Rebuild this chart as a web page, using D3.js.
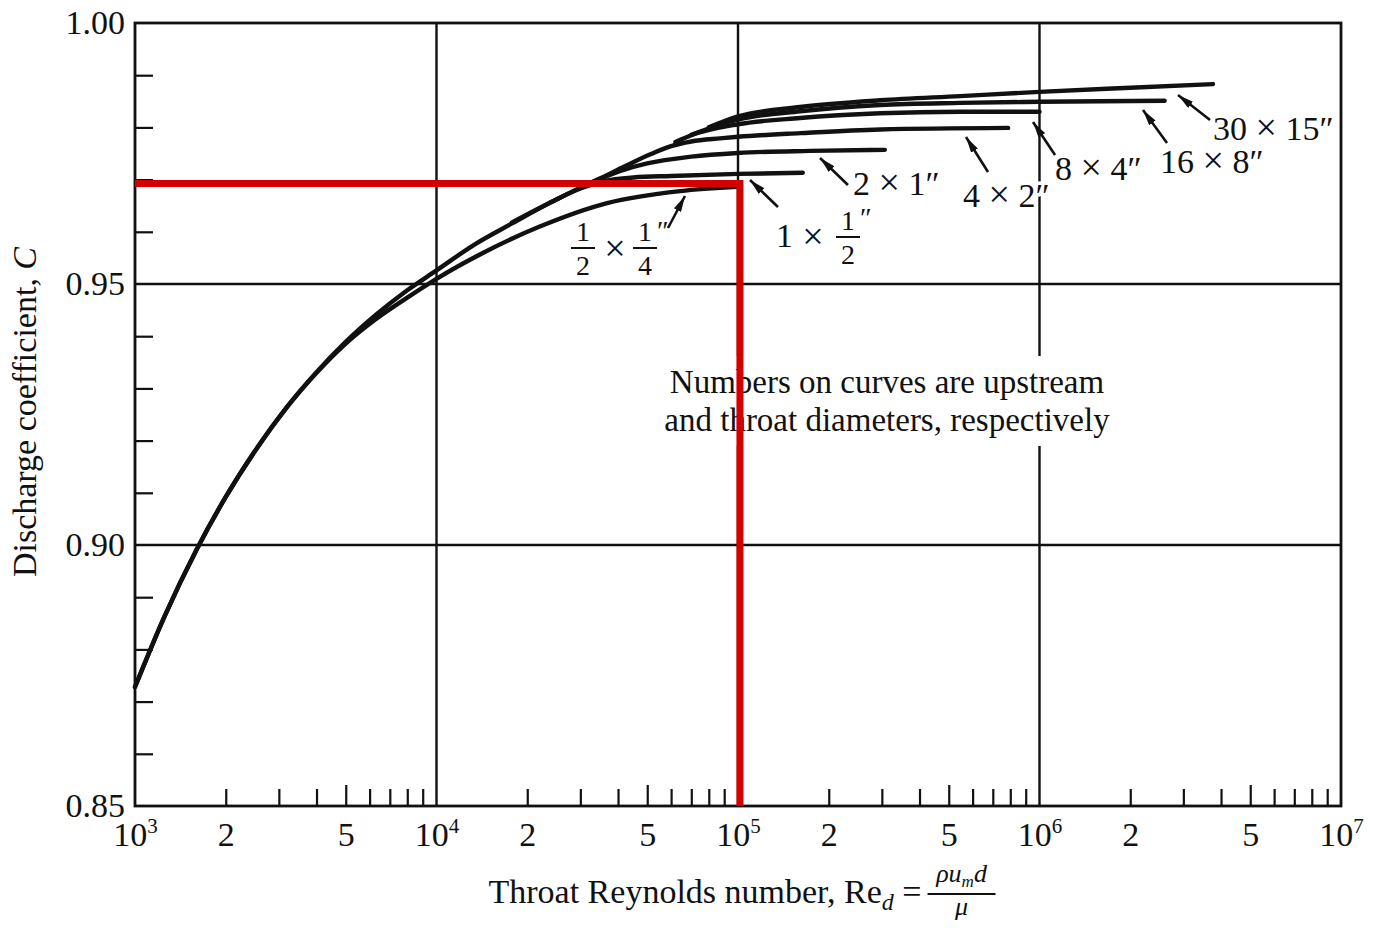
<!DOCTYPE html>
<html>
<head>
<meta charset="utf-8">
<script src="https://cdn.jsdelivr.net/npm/d3@7"></script>
<style>
body { margin: 0; background: #fff; }
text { font-family: "Liberation Serif", "Times New Roman", serif; fill: #111; }
</style>
</head>
<body>
<script>
// discharge coefficient of venturi meters, points read as [Re, C]
const meterSizes = ['1/2 x 1/4', '1 x 1/2', '2 x 1', '4 x 2', '8 x 4', '16 x 8', '30 x 15'];

const halfQuarter = [[1000,0.8728],[1250,0.8862],[1600,0.8991],[2000,0.9092],[2500,0.9180],[3200,0.9265],
  [4000,0.9330],[5000,0.9386],[6300,0.9433],[8000,0.9474],[10000,0.9510],[14300,0.9560],[22000,0.9610],
  [36800,0.9655],[64300,0.9678],[100000,0.9686]];
const oneHalf = [[1000,0.8728],[1250,0.8862],[1600,0.8991],[2000,0.9092],[2500,0.9180],[3200,0.9265],
  [4000,0.9331],[5000,0.9389],[6300,0.9441],[8000,0.9488],[10000,0.9526],[13400,0.9576],[17800,0.9616],
  [23700,0.9655],[30000,0.9683],[36000,0.9697],[45000,0.9704],[60000,0.9707],[100000,0.9711],[164000,0.9713]];
const twoOne = [[17800,0.9618],[24600,0.9660],[35100,0.9702],[42000,0.9719],[50000,0.9731],[70000,0.9744],
  [100000,0.9751],[173000,0.9755],[307000,0.9757]];
const fourTwo = [[30000,0.9685],[35100,0.9703],[42000,0.9725],[51000,0.9748],[60000,0.9764],[70000,0.9773],
  [87100,0.9779],[100000,0.9782],[160600,0.9789],[296000,0.9796],[787000,0.9799]];
const eightFour = [[62000,0.9772],[70000,0.9785],[100000,0.9806],[160600,0.9818],[296000,0.9827],
  [545000,0.9830],[1000000,0.9830]];
const sixteenEight = [[70000,0.9786],[100000,0.9815],[160600,0.9831],[296000,0.9843],[545000,0.9847],
  [1000000,0.9849],[2600000,0.9851]];
const thirtyFifteen = [[80000,0.9800],[100000,0.9821],[160600,0.9839],[296000,0.9852],[545000,0.9860],
  [1000000,0.9868],[2000000,0.9876],[3760000,0.9883]];
const curves = [halfQuarter, oneHalf, twoOne, fourTwo, eightFour, sixteenEight, thirtyFifteen];

// red reading lines: Re = 1e5 gives C = 0.97
const readRe = 101500;
const readC = 0.96925;

const xTickVals = [1e3, 2e3, 5e3, 1e4, 2e4, 5e4, 1e5, 2e5, 5e5, 1e6, 2e6, 5e6, 1e7];
const yTickVals = [0.85, 0.90, 0.95, 1.00];
const xGrid = [1e4, 1e5, 1e6];
const yGrid = [0.90, 0.95];

// label anchors and arrows (from -> tip), in data units
const labelAt = [[30610,0.95690],[133660,0.95709],[240600,0.96705],[557600,0.96475],[1126000,0.96992],[2510000,0.97126],[3764000,0.97759]];
const arrows = [[58580,0.96073,66710,0.96686],[135700,0.96475,109600,0.96992],[231600,0.96897,187100,0.97414],
  [674900,0.97146,570400,0.97816],[1126000,0.97471,951500,0.98103],[2648000,0.97701,2204000,0.98333],
  [3678000,0.98142,2880000,0.98621]];
const noteAt = [312000, 0.92912];
const noteLines = ['Numbers on curves are upstream', 'and throat diameters, respectively'];

const pL = 135, pR = 1341, pT = 23, pB = 806;

const svg = d3.select('body').append('svg').attr('width', 1378).attr('height', 928);
const x = d3.scaleLog().domain([1e3, 1e7]).range([pL, pR]);
const y = d3.scaleLinear().domain([0.85, 1.0]).range([pB, pT]);

svg.append('defs').append('marker').attr('id', 'head')
  .attr('viewBox', '0 0 16 8').attr('refX', 16).attr('refY', 4)
  .attr('markerWidth', 16).attr('markerHeight', 8)
  .attr('markerUnits', 'userSpaceOnUse').attr('orient', 'auto')
  .append('path').attr('d', 'M0,0L16,4L0,8z').attr('fill', '#111');

// grid
const grid = svg.append('g').attr('stroke', '#111').attr('stroke-width', 2.4);
grid.selectAll('.gx').data(xGrid).join('line')
  .attr('x1', d => x(d)).attr('x2', d => x(d)).attr('y1', pT).attr('y2', pB);
grid.selectAll('.gy').data(yGrid).join('line')
  .attr('y1', d => y(d)).attr('y2', d => y(d)).attr('x1', pL).attr('x2', pR);

// minor ticks
const xMinor = [];
for (let e = 3; e < 7; e++) for (let m = 2; m <= 9; m++) xMinor.push(m * Math.pow(10, e));
const yMinor = d3.range(86, 100).filter(v => v !== 90 && v !== 95).map(v => v / 100);

const xAx = svg.append('g').attr('transform', `translate(0,${pB})`)
  .call(d3.axisBottom(x).tickValues(xMinor).tickSize(-17).tickFormat(''));
xAx.selectAll('.tick line').attr('stroke', '#111').attr('stroke-width', 2.2)
  .filter(d => Math.abs(d / Math.pow(10, Math.floor(Math.log10(d) + 1e-9)) - 5) < 1e-6)
  .attr('y2', -21);
xAx.select('.domain').remove();

const yAx = svg.append('g').attr('transform', `translate(${pL},0)`)
  .call(d3.axisLeft(y).tickValues(yMinor).tickSize(-18).tickFormat(''));
yAx.selectAll('.tick line').attr('stroke', '#111').attr('stroke-width', 2.2);
yAx.select('.domain').remove();

// tick labels
const yLab = svg.append('g').attr('transform', `translate(${pL},0)`)
  .call(d3.axisLeft(y).tickValues(yTickVals).tickSize(0).tickPadding(10).tickFormat(d3.format('.2f')));
yLab.select('.domain').remove();
yLab.selectAll('text').attr('font-size', 34).attr('font-family', '"Liberation Serif", serif').attr('fill', '#111');

const xLab = svg.append('g').attr('transform', `translate(0,${pB})`)
  .call(d3.axisBottom(x).tickValues(xTickVals).tickSize(0).tickPadding(16).tickFormat(''));
xLab.select('.domain').remove();
xLab.selectAll('text').attr('font-size', 34).attr('font-family', '"Liberation Serif", serif').attr('fill', '#111')
  .each(function(d) {
    const e = Math.round(Math.log10(d));
    const t = d3.select(this);
    if (Math.abs(d - Math.pow(10, e)) < 1e-6) {
      t.text('10');
      t.append('tspan').attr('font-size', 21).attr('dy', '-0.62em').text(e);
    } else {
      t.text(Math.round(d / Math.pow(10, Math.floor(Math.log10(d)))));
    }
  });

// frame
svg.append('rect').attr('x', pL).attr('y', pT).attr('width', pR - pL).attr('height', pB - pT)
  .attr('fill', 'none').attr('stroke', '#111').attr('stroke-width', 2.8);

// curves
const line = d3.line().x(d => x(d[0])).y(d => y(d[1])).curve(d3.curveMonotoneX);
svg.append('g').selectAll('path').data(curves).join('path')
  .attr('d', line).attr('fill', 'none').attr('stroke', '#111')
  .attr('stroke-width', 4.4).attr('stroke-linecap', 'round');

// note box
const note = svg.append('g');
const noteBg = note.append('rect').attr('fill', '#fff');
const noteText = note.append('text').attr('font-size', 33).attr('text-anchor', 'middle')
  .attr('x', x(noteAt[0])).attr('y', y(noteAt[1]));
noteLines.forEach((s, i) => noteText.append('tspan').attr('x', x(noteAt[0])).attr('dy', i ? 38 : 0).text(s));
const nb = noteText.node().getBBox();
noteBg.attr('x', nb.x - 8).attr('y', nb.y - 8).attr('width', nb.width + 16).attr('height', nb.height + 16);

// labels
const lab = svg.append('g');
const halo = sel => sel.attr('stroke', '#fff').attr('stroke-width', 7).attr('paint-order', 'stroke')
  .attr('stroke-linejoin', 'round');

function fraction(g, cx, barY, num, den) {
  g.append('text').attr('x', cx).attr('y', barY - 7).attr('text-anchor', 'middle').attr('font-size', 28).text(num).call(halo);
  g.append('text').attr('x', cx).attr('y', barY + 27).attr('text-anchor', 'middle').attr('font-size', 28).text(den).call(halo);
  g.append('line').attr('x1', cx - 12).attr('x2', cx + 12).attr('y1', barY).attr('y2', barY)
    .attr('stroke', '#111').attr('stroke-width', 2);
}

meterSizes.forEach((name, i) => {
  const ax = x(labelAt[i][0]), ay = y(labelAt[i][1]);
  const g = lab.append('g');
  if (i === 0) {
    fraction(g, ax, ay, '1', '2');
    g.append('text').attr('x', ax + 32).attr('y', ay + 13).attr('text-anchor', 'middle').attr('font-size', 38).text('\u00d7').call(halo);
    fraction(g, ax + 62, ay, '1', '4');
    g.append('text').attr('x', ax + 74).attr('y', ay - 8).attr('font-size', 28).text('\u2033').call(halo);
  } else if (i === 1) {
    g.append('text').attr('x', ax).attr('y', ay).attr('font-size', 34).text('1').call(halo);
    g.append('text').attr('x', ax + 37).attr('y', ay + 2).attr('text-anchor', 'middle').attr('font-size', 38).text('\u00d7').call(halo);
    fraction(g, ax + 72, ay - 10, '1', '2');
    g.append('text').attr('x', ax + 84).attr('y', ay - 20).attr('font-size', 28).text('\u2033').call(halo);
  } else {
    const [up, th] = name.split(' x ');
    const t = g.append('text').attr('x', ax).attr('y', ay).attr('font-size', 34).call(halo);
    t.append('tspan').text(`${up} `);
    t.append('tspan').attr('font-size', 38).text('\u00d7');
    t.append('tspan').text(` ${th}\u2033`);
  }
});

lab.selectAll('.arrow').data(arrows).join('line')
  .attr('x1', d => x(d[0])).attr('y1', d => y(d[1]))
  .attr('x2', d => x(d[2])).attr('y2', d => y(d[3]))
  .attr('stroke', '#111').attr('stroke-width', 2.6).attr('marker-end', 'url(#head)');

// red reading lines
svg.append('path')
  .attr('d', d3.line().x(d => x(d[0])).y(d => y(d[1]))([[1e3, readC], [readRe, readC], [readRe, 0.85]]))
  .attr('fill', 'none').attr('stroke', '#d40000').attr('stroke-width', 7).attr('stroke-linejoin', 'miter');

// axis titles
const yt = svg.append('text').attr('transform', 'translate(36,412) rotate(-90)')
  .attr('text-anchor', 'middle').attr('font-size', 34);
yt.append('tspan').text('Discharge coefficient, ');
yt.append('tspan').attr('font-style', 'italic').text('C');

const xt = svg.append('text').attr('x', 0).attr('y', 903).attr('font-size', 34);
xt.append('tspan').text('Throat Reynolds number, Re');
xt.append('tspan').attr('font-style', 'italic').attr('font-size', 24).attr('dy', 7).text('d');
xt.append('tspan').attr('dy', -7).text(' = ');
const xtw = xt.node().getComputedTextLength();
const fracW = 68, totalW = xtw + 6 + fracW;
const x0 = 742 - totalW / 2;
xt.attr('x', x0);
const fx = x0 + xtw + 6 + fracW / 2;
const num = svg.append('text').attr('x', fx).attr('y', 882).attr('text-anchor', 'middle')
  .attr('font-size', 26).attr('font-style', 'italic');
num.append('tspan').text('\u03c1u');
num.append('tspan').attr('font-size', 17).attr('dy', 5).text('m');
num.append('tspan').attr('dy', -5).text('d');
svg.append('line').attr('x1', fx - fracW / 2).attr('x2', fx + fracW / 2).attr('y1', 894).attr('y2', 894)
  .attr('stroke', '#111').attr('stroke-width', 2.2);
svg.append('text').attr('x', fx).attr('y', 915).attr('text-anchor', 'middle')
  .attr('font-size', 26).attr('font-style', 'italic').text('\u03bc');
</script>
</body>
</html>
